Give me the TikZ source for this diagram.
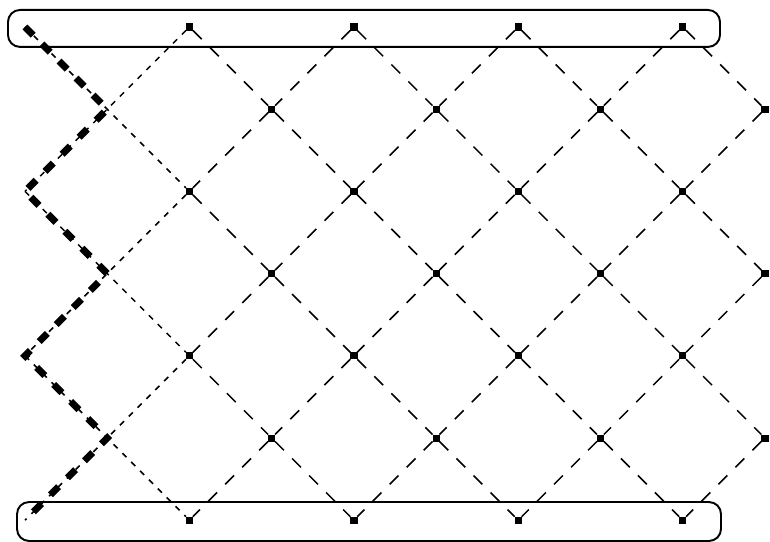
\documentclass[tikz,border=0pt]{standalone}
\begin{document}
\begin{tikzpicture}[x=1.5cm, y=1.5cm,
        pt/.style={draw, fill, rectangle, inner sep=0pt, minimum size=3.2pt},
        edge/.style={line width=0.8pt, dash pattern=on 6.5pt off 6pt},
        fine/.style={line width=0.8pt, dash pattern=on 3pt off 3.5pt},
        walk/.style={line width=3.6pt, dash pattern=on 6pt off 6.5pt},
        bar/.style={line width=1pt, rounded corners=0.22cm}]
    \useasboundingbox (-0.304,0.328) rectangle (9.063,-6.265);
    % lattice points
    \foreach \r in {0,2,4,6} {
        \coordinate (p-0-\r) at (0,-\r);
        \foreach \c in {2,4,6,8}
            \node[pt] (p-\c-\r) at (\c,-\r) {};
    }
    \foreach \r in {1,3,5} {
        \coordinate (p-1-\r) at (1,-\r);
        \foreach \c in {3,5,7,9}
            \node[pt] (p-\c-\r) at (\c,-\r) {};
    }
    % lattice edges
    \foreach \r/\ru/\rd in {1/0/2,3/2/4,5/4/6} {
        \foreach \c/\cl in {3/2,5/4,7/6,9/8} {
            \draw[edge] (p-\cl-\ru) -- (p-\c-\r);
            \draw[edge] (p-\c-\r) -- (p-\cl-\rd);
        }
        \foreach \c/\cr in {3/4,5/6,7/8} {
            \draw[edge] (p-\cr-\ru) -- (p-\c-\r);
            \draw[edge] (p-\c-\r) -- (p-\cr-\rd);
        }
    }
    % left crossings
    \foreach \ru/\rd in {0/2,2/4,4/6} {
        \draw[fine] (p-0-\ru) -- (p-2-\rd);
        \draw[fine] (p-2-\ru) -- (p-0-\rd);
    }
    % zigzag
    \draw[walk] (p-0-0) -- (p-1-1) -- (p-0-2) -- (p-1-3) -- (p-0-4) -- (p-1-5) -- (p-0-6);
    % rows
    \draw[bar] (-0.207,0.207) rectangle (8.455,-0.243);
    \draw[bar] (-0.097,-5.779) rectangle (8.467,-6.253);
\end{tikzpicture}
\end{document}
